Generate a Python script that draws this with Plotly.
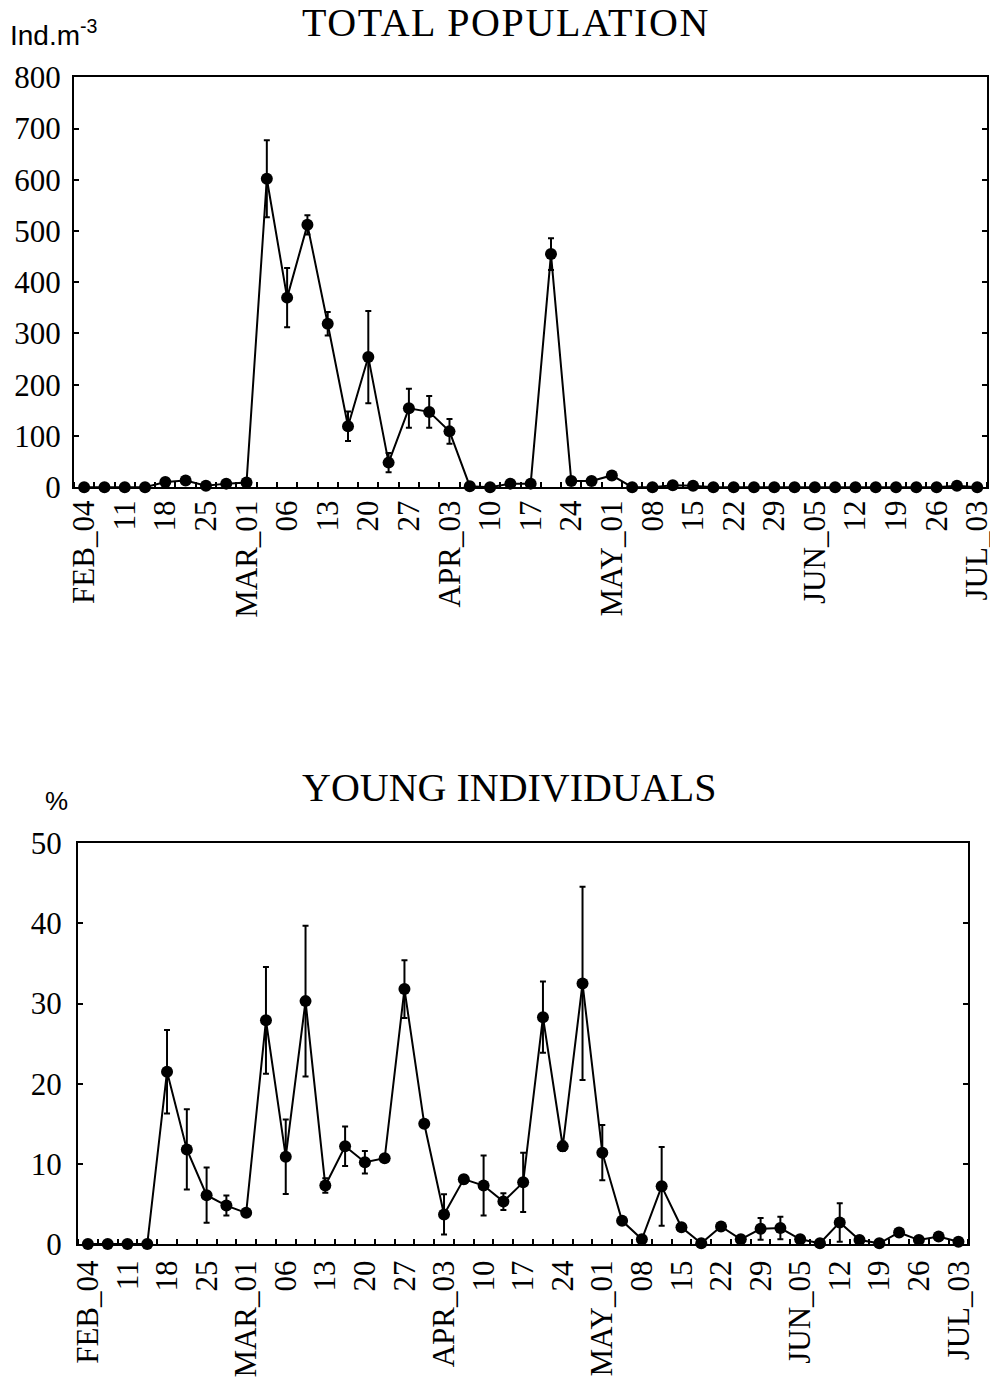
import plotly.graph_objects as go

# ---- data ----
tick_labels = ["FEB_04", "11", "18", "25", "MAR_01", "06", "13", "20", "27",
               "APR_03", "10", "17", "24", "MAY_01", "08", "15", "22", "29",
               "JUN_05", "12", "19", "26", "JUL_03"]

total_mean = [0, 0, 0, 0, 10, 13, 3, 7, 9, 602, 370, 512, 319, 119, 254, 48,
              154, 147, 109, 2, 0, 7, 7, 455, 12, 12, 23, 0, 0, 4, 3, 0,
              0, 0, 0, 0, 0, 0, 0, 0, 0, 0, 0, 3, 0]
total_err = [0, 0, 0, 0, 0, 0, 0, 0, 0, 75, 58, 19, 23, 29, 90, 19,
             38, 31, 24, 0, 0, 0, 0, 31, 0, 0, 0, 0, 0, 0, 0, 0,
             0, 0, 0, 0, 0, 0, 0, 0, 0, 0, 0, 0, 0]

young_mean = [0, 0, 0, 0, 21.5, 11.8, 6.1, 4.8, 3.9, 27.9, 10.9, 30.3, 7.3, 12.2,
              10.2, 10.7, 31.8, 15.0, 3.7, 8.1, 7.3, 5.3, 7.7, 28.3, 12.2, 32.5,
              11.4, 2.9, 0.6, 7.2, 2.1, 0.1, 2.2, 0.6, 1.9, 2.0, 0.6, 0.1, 2.7,
              0.5, 0.1, 1.45, 0.5, 0.95, 0.3]
young_err = [0, 0, 0, 0, 5.2, 5.0, 3.45, 1.25, 0, 6.65, 4.65, 9.4, 0.9, 2.45,
             1.4, 0, 3.6, 0, 2.5, 0.5, 3.75, 1.05, 3.7, 4.45, 0.6, 12.05,
             3.45, 0, 0, 4.9, 0, 0, 0, 0, 1.35, 1.4, 0, 0, 2.4,
             0, 0, 0, 0, 0, 0]

titles = ["TOTAL POPULATION", "YOUNG INDIVIDUALS"]
units = ["Ind.m<sup>-3</sup>", "%"]

# ---- figure ----
# The photographed page shows the figure slightly shrunk and offset, so the
# layout positions below are given in photographed pixels and mapped back.
W, H = 998, 1396
SX, BX = 0.9835, 9.1
SY, BY = 0.9751, 16.7


def xp(px):
    return min(1.0, max(0.0, (px - BX) / SX / W))


def yp(px):
    return min(1.0, max(0.0, 1 - (px - BY) / SY / H))


x_idx = list(range(len(total_mean)))
tick_idx = x_idx[::2]

fig = go.Figure()


def add_series(y, err, xa, ya):
    fig.add_trace(go.Scatter(
        x=x_idx, y=y, xaxis=xa, yaxis=ya, mode="lines+markers",
        line=dict(color="black", width=2),
        marker=dict(color="black", size=12),
        error_y=dict(type="data", array=err, visible=True,
                     color="black", thickness=2, width=3),
        showlegend=False, cliponaxis=False))


add_series(total_mean, total_err, "x", "y")
add_series(young_mean, young_err, "x2", "y2")

serif = "Liberation Serif"


def xaxis(domain, anchor, standoff):
    return dict(domain=domain, anchor=anchor, range=[-0.5, len(x_idx) - 0.5],
                tickmode="array", tickvals=tick_idx, ticktext=tick_labels,
                tickangle=-90, ticks="", showgrid=False, zeroline=False,
                showline=True, linecolor="black", linewidth=2, mirror=True,
                tickfont=dict(family=serif, size=31, color="black"),
                ticklabelstandoff=standoff,
                minor=dict(tickmode="linear", tick0=0.5, dtick=1, ticks="inside",
                           ticklen=5, tickwidth=1.5, tickcolor="black",
                           showgrid=False))


def yaxis(domain, anchor, rng, dtick, standoff):
    return dict(domain=domain, anchor=anchor, range=rng, dtick=dtick,
                tick0=0, ticks="inside", ticklen=5, tickwidth=1.5,
                tickcolor="black", showgrid=False, zeroline=False,
                showline=True, linecolor="black", linewidth=2, mirror="allticks",
                tickfont=dict(family=serif, size=31, color="black"),
                ticklabelstandoff=standoff)


fig.update_layout(
    width=W, height=H, margin=dict(l=0, r=0, t=0, b=0),
    paper_bgcolor="white", plot_bgcolor="white",
    xaxis=xaxis([xp(75), xp(987)], "y", -1),
    yaxis=yaxis([yp(487), yp(77)], "x", [0, 800], 100, 5),
    xaxis2=xaxis([xp(79), xp(968)], "y2", 2),
    yaxis2=yaxis([yp(1244), yp(843)], "x2", [0, 50], 10, 8),
    annotations=[
        dict(text='<span style="letter-spacing:1.6px">' + titles[0] + '</span>',
             x=xp(506), y=yp(22), xref="paper", yref="paper",
             xanchor="center", yanchor="middle", showarrow=False,
             font=dict(family=serif, size=40, color="black")),
        dict(text=titles[1], x=xp(509), y=yp(787),
             xref="paper", yref="paper",
             xanchor="center", yanchor="middle", showarrow=False,
             font=dict(family=serif, size=40, color="black")),
        dict(text=units[0], x=xp(7), y=yp(33), xref="paper", yref="paper",
             xanchor="left", yanchor="middle", showarrow=False,
             font=dict(family="Liberation Sans", size=28, color="black")),
        dict(text=units[1], x=xp(58), y=yp(801), xref="paper", yref="paper",
             xanchor="center", yanchor="middle", showarrow=False,
             font=dict(family="Liberation Sans", size=26, color="black")),
    ],
)

fig.write_html("out.html")
